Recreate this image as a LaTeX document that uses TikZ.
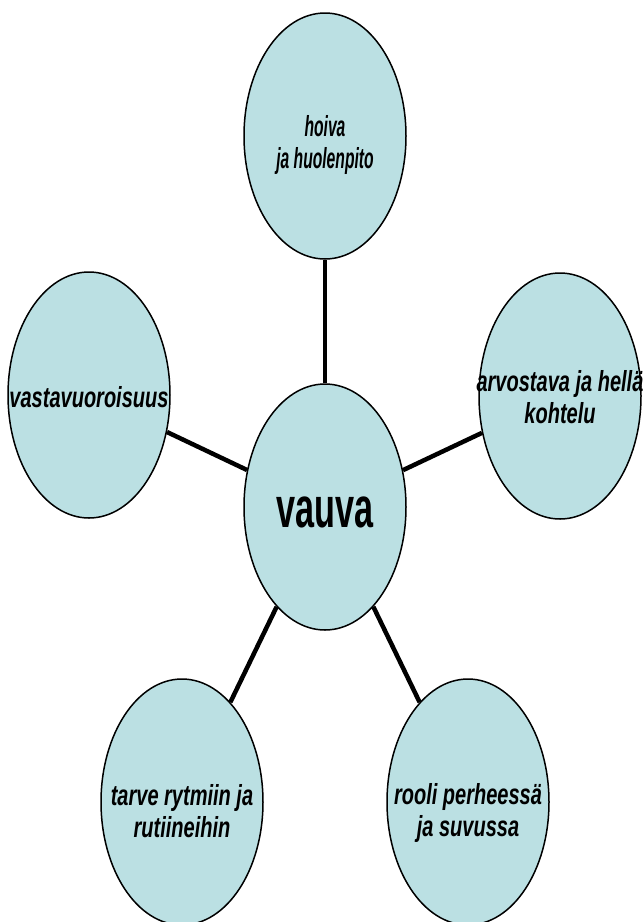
\documentclass[tikz,border=0pt]{standalone}
\usepackage{xcolor}
\usepackage{graphicx}
\usepackage{fontspec}
\setmainfont{Liberation Sans}
\usepackage{tikz}
\usetikzlibrary{shapes.geometric, backgrounds}

\definecolor{pale}{RGB}{187,224,227}
% text squeezed sideways and lowered a little inside its bubble
\newcommand{\bubbletext}[3]{\makebox[0pt]{\raisebox{#2}[\height][\depth]{\scalebox{#1}[1]{#3}}}}

\begin{document}
\begin{tikzpicture}[x=1pt, y=-1pt,
    bubble/.style={ellipse, draw=black, line width=1.5pt, fill=pale,
        minimum width=162pt, minimum height=246pt, inner sep=0pt, align=center,
        font=\fontsize{29}{32}\selectfont\bfseries\itshape},
    spoke/.style={black, line width=4.5pt}]
    \useasboundingbox (0,0) rectangle (644,922);
    \clip (0,0) rectangle (644,922);

    \node[bubble] (vauva) at (325,507) {\bubbletext{0.6}{-5pt}{\fontsize{57}{60}\selectfont\upshape vauva}};
    \node[bubble] (hoiva) at (325,136) {\bubbletext{0.54}{-10pt}{\begin{tabular}{c}hoiva\\ja huolenpito\end{tabular}}};
    \node[bubble] (arvostava) at (560,396) {\bubbletext{0.69}{-5pt}{\begin{tabular}{c}arvostava ja hellä\\kohtelu\end{tabular}}};
    \node[bubble] (vastavuoro) at (89,395) {\bubbletext{0.69}{-2pt}{vastavuoroisuus}};
    \node[bubble] (rytmi) at (182,802) {\bubbletext{0.69}{-13pt}{\begin{tabular}{c}tarve rytmiin ja\\rutiineihin\end{tabular}}};
    \node[bubble] (rooli) at (468,802) {\bubbletext{0.69}{-12pt}{\begin{tabular}{c}rooli perheessä\\ja suvussa\end{tabular}}};

    \begin{scope}[on background layer]
        \foreach \n in {hoiva, arvostava, vastavuoro, rytmi, rooli}
            \draw[spoke] (vauva) -- (\n);
    \end{scope}
\end{tikzpicture}
\end{document}
